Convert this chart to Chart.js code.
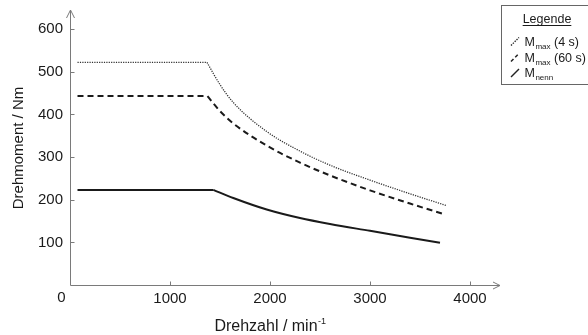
<!DOCTYPE html>
<html>
<head>
<meta charset="utf-8">
<script src="https://cdn.jsdelivr.net/npm/chart.js@4/dist/chart.umd.min.js"></script>
<style>
  html, body { margin: 0; padding: 0; background: #fff; }
  #wrap { width: 588px; height: 335px; }
</style>
</head>
<body>
<div id="wrap"><canvas id="c" width="588" height="335"></canvas></div>
<script>
// Torque characteristic of the drive: speed (1/min) vs. torque (Nm)
const speedMax4s  = [75, 1370, 1500, 1633, 1967, 2300, 2600, 3000, 3400, 3767];
const torqueMax4s = [522, 522, 470, 428, 360, 314, 281, 246, 214, 186];

const speedMax60s  = [75, 1375, 1500, 1633, 1967, 2300, 2600, 3000, 3400, 3757];
const torqueMax60s = [443, 443, 408, 379, 327, 287, 257, 222, 191, 165];

const speedNenn  = [75, 1433, 1633, 1967, 2300, 2600, 3000, 3400, 3700];
const torqueNenn = [223, 223, 204, 177, 157, 143, 127, 111, 99];

const xTicks = [1000, 2000, 3000, 4000];
const yTicks = [100, 200, 300, 400, 500, 600];

// legend entries: main symbol, subscript, trailing text
const legendMain = ['M', 'M', 'M'];
const legendSub  = ['max', 'max', 'nenn'];
const legendTail = [' (4 s)', ' (60 s)', ''];

const FONT = '"Liberation Sans", Arial, sans-serif';
const AXIS_COLOR = '#7a7a7a';
const TEXT_COLOR = '#1a1a1a';

const styles = [
  { borderColor: '#333', borderWidth: 1.3, borderDash: [1.2, 1.2] },
  { borderColor: '#1a1a1a', borderWidth: 2, borderDash: [6, 4] },
  { borderColor: '#1a1a1a', borderWidth: 2, borderDash: [] }
];

// each curve: constant-torque part (straight) + field-weakening part (smooth)
function buildDatasets(speeds, torques, style) {
  const pts = speeds.map((s, i) => ({ x: s, y: torques[i] }));
  const flat = pts.slice(0, 2);
  const curve = pts.slice(1);
  const common = Object.assign({ pointRadius: 0, fill: false }, style);
  return [
    Object.assign({ data: flat, tension: 0 }, common),
    Object.assign({ data: curve, cubicInterpolationMode: 'monotone' }, common)
  ];
}

const datasets = [
  ...buildDatasets(speedMax4s, torqueMax4s, styles[0]),
  ...buildDatasets(speedMax60s, torqueMax60s, styles[1]),
  ...buildDatasets(speedNenn, torqueNenn, styles[2])
];

const decorations = {
  id: 'decorations',
  afterDraw(chart) {
    const ctx = chart.ctx;
    const xs = chart.scales.x, ys = chart.scales.y;
    const x0 = Math.round(xs.getPixelForValue(0)) + 0.5;
    const y0 = Math.round(ys.getPixelForValue(0)) + 0.5;
    const top = chart.chartArea.top;
    const right = chart.chartArea.right;

    ctx.save();
    ctx.strokeStyle = AXIS_COLOR;
    ctx.lineWidth = 1;
    // axes
    ctx.beginPath();
    ctx.moveTo(x0, y0); ctx.lineTo(x0, top);
    ctx.moveTo(x0, y0); ctx.lineTo(right, y0);
    ctx.stroke();
    // arrow heads
    ctx.beginPath();
    ctx.moveTo(x0 - 4, top + 8); ctx.lineTo(x0, top); ctx.lineTo(x0 + 4, top + 8);
    ctx.moveTo(right - 7, y0 - 3.5); ctx.lineTo(right, y0); ctx.lineTo(right - 7, y0 + 3.5);
    ctx.stroke();
    // inward tick marks
    ctx.beginPath();
    yTicks.forEach(v => {
      const p = Math.round(ys.getPixelForValue(v)) + 0.5;
      ctx.moveTo(x0, p); ctx.lineTo(x0 + 4, p);
    });
    xTicks.forEach(v => {
      const p = Math.round(xs.getPixelForValue(v)) + 0.5;
      ctx.moveTo(p, y0); ctx.lineTo(p, y0 - 4);
    });
    ctx.stroke();

    // origin label
    ctx.fillStyle = TEXT_COLOR;
    ctx.font = '15px ' + FONT;
    ctx.textAlign = 'center';
    ctx.textBaseline = 'middle';
    ctx.fillText('0', x0 - 9, 298);

    // x axis title with superscript
    ctx.textBaseline = 'alphabetic';
    ctx.textAlign = 'left';
    ctx.font = '16px ' + FONT;
    const xt = 'Drehzahl / min';
    const w1 = ctx.measureText(xt).width;
    ctx.font = '9px ' + FONT;
    const sup = '-1';
    const w2 = ctx.measureText(sup).width;
    const startX = 270 - (w1 + w2) / 2;
    ctx.font = '16px ' + FONT;
    ctx.fillText(xt, startX, 331);
    ctx.font = '9px ' + FONT;
    ctx.fillText(sup, startX + w1 + 0.5, 323.5);

    // y axis title
    ctx.save();
    ctx.translate(22.5, 148);
    ctx.rotate(-Math.PI / 2);
    ctx.font = '15px ' + FONT;
    ctx.textAlign = 'center';
    ctx.fillText('Drehmoment / Nm', 0, 0);
    ctx.restore();

    // legend box
    ctx.strokeStyle = '#666';
    ctx.lineWidth = 1;
    ctx.strokeRect(501.5, 5.5, 100, 79);
    ctx.font = '12.5px ' + FONT;
    ctx.textAlign = 'center';
    ctx.fillStyle = TEXT_COLOR;
    ctx.fillText('Legende', 547, 23);
    const tw = ctx.measureText('Legende').width;
    ctx.strokeStyle = TEXT_COLOR;
    ctx.beginPath();
    ctx.moveTo(547 - tw / 2, 25.5); ctx.lineTo(547 + tw / 2, 25.5);
    ctx.stroke();

    const rowBase = [45.5, 61.5, 77];
    ctx.textAlign = 'left';
    legendMain.forEach((m, i) => {
      const b = rowBase[i];
      ctx.save();
      ctx.strokeStyle = '#222';
      ctx.lineWidth = i === 0 ? 1.3 : 1.5;
      ctx.setLineDash(i === 0 ? [1.4, 1.2] : (i === 1 ? [3.5, 2.5] : []));
      ctx.beginPath();
      ctx.moveTo(511, b); ctx.lineTo(519, b - 8);
      ctx.stroke();
      ctx.restore();
      ctx.fillStyle = TEXT_COLOR;
      ctx.font = '12.5px ' + FONT;
      let x = 524.5;
      ctx.fillText(m, x, b);
      x += ctx.measureText(m).width + 0.5;
      ctx.font = '8px ' + FONT;
      ctx.fillText(legendSub[i], x, b + 3);
      x += ctx.measureText(legendSub[i]).width;
      ctx.font = '12.5px ' + FONT;
      ctx.fillText(legendTail[i], x, b);
    });
    ctx.restore();
  }
};

new Chart(document.getElementById('c'), {
  type: 'line',
  data: { datasets },
  options: {
    responsive: false,
    devicePixelRatio: 1,
    animation: false,
    layout: { padding: { left: 0, top: 10, right: 88, bottom: 0 } },
    plugins: { legend: { display: false }, tooltip: { enabled: false } },
    scales: {
      x: {
        type: 'linear',
        min: 0,
        max: 4300,
        afterFit: s => { s.height = 50; s.paddingLeft = 0; s.paddingRight = 0; },
        afterBuildTicks: s => { s.ticks = xTicks.map(v => ({ value: v })); },
        grid: { display: false, drawTicks: false },
        border: { display: false },
        ticks: { color: TEXT_COLOR, font: { family: FONT, size: 15 }, padding: 5, maxRotation: 0,
                 callback: v => String(v) }
      },
      y: {
        type: 'linear',
        min: 0,
        max: 645,
        afterFit: s => { s.width = 70; s.paddingTop = 0; s.paddingBottom = 0; },
        afterBuildTicks: s => { s.ticks = yTicks.map(v => ({ value: v })); },
        grid: { display: false, drawTicks: false },
        border: { display: false },
        ticks: { color: TEXT_COLOR, font: { family: FONT, size: 15 }, padding: 7,
                 callback: v => String(v) }
      }
    }
  },
  plugins: [decorations]
});
</script>
</body>
</html>
